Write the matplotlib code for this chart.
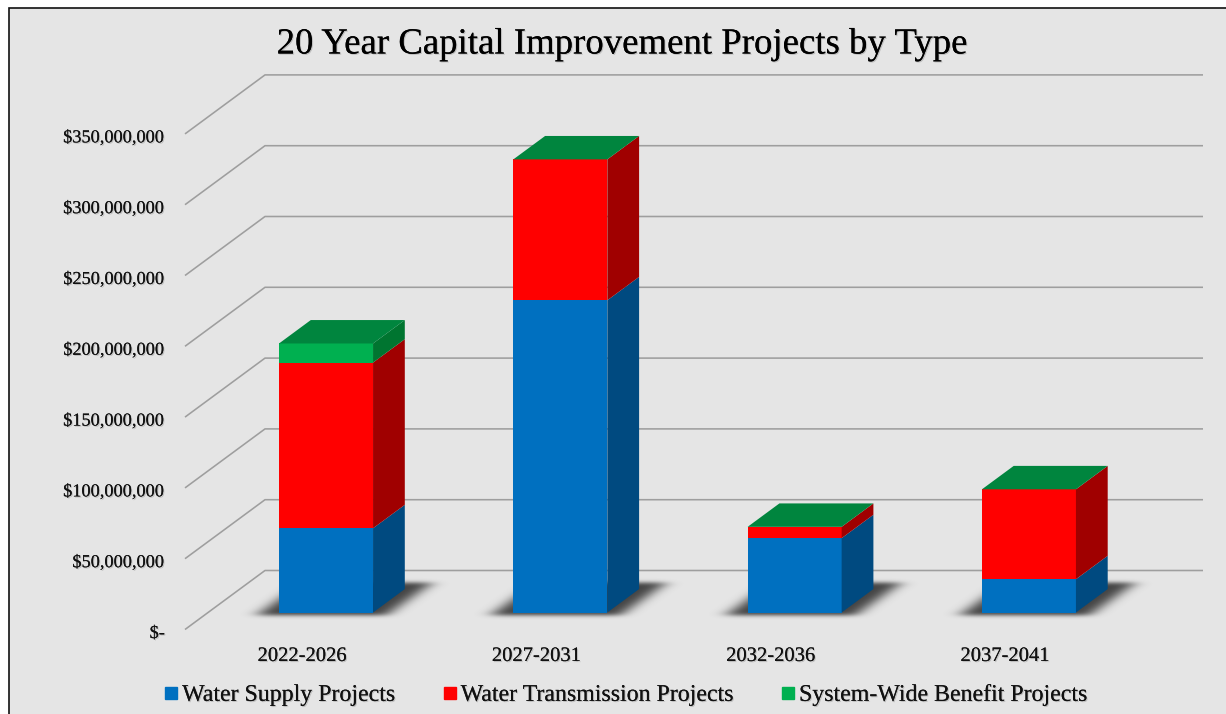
import matplotlib
matplotlib.use('Agg')
import matplotlib.pyplot as plt
import matplotlib.patheffects as pe
import matplotlib.transforms as mtransforms
from matplotlib.lines import Line2D
from matplotlib.patches import Polygon, Rectangle
from matplotlib.ticker import FuncFormatter
import numpy as np

periods = ['2022-2026', '2027-2031', '2032-2036', '2037-2041']
series_names = ['Water Supply Projects', 'Water Transmission Projects', 'System-Wide Benefit Projects']
water_supply = [59.5e6, 220.5e6, 52.5e6, 23.5e6]
water_transmission = [117e6, 99.5e6, 8e6, 63.5e6]
system_wide = [13.5e6, 0, 0, 0]
y_ticks = [0, 50e6, 100e6, 150e6, 200e6, 250e6, 300e6, 350e6]

front = ['#0070c0', '#ff0000', '#00b050']
side = ['#004a80', '#a00000', '#007530']
top = '#00853e'

plt.rcParams['font.family'] = ['Liberation Serif', 'DejaVu Serif']

W, H = 1226, 714
fig = plt.figure(figsize=(W / 100, H / 100), dpi=100, facecolor='white')

# chart area with its black frame, runs off the right and bottom of the image
fig.add_artist(Rectangle((8.5 / W, -0.02), 1.02, (H - 8.5) / H + 0.02, transform=fig.transFigure,
                         facecolor='#e5e5e5', edgecolor='#111111', linewidth=1.2, zorder=-1))

# axes = front edge of the 3d floor
ax = fig.add_axes([185 / W, (H - 629.5) / H, (1203 - 185) / W, (629.5 - 73.5) / H])
ax.patch.set_alpha(0)
px_x = 1 / 234.3
px_y = 50e6 / 70.8
ax.set_xlim((185 - 302) * px_x, (1203 - 302) * px_x)
ax.set_ylim(0, (629.5 - 73.5) * px_y)

depth_x = 80 * px_x
depth_y = 59 * px_y
t0, t1 = 0.288, 0.685  # where the bars sit in the depth of the floor
bar_w = 94 * px_x
bar_shift = 1 * px_x

txt_fx = [pe.withSimplePatchShadow(offset=(0.8, -0.8), shadow_rgbFace='#666666', alpha=0.3), pe.Normal()]

for s in ax.spines.values():
    s.set_visible(False)

ax.set_yticks(y_ticks)
ax.yaxis.set_major_formatter(FuncFormatter(lambda v, p: '$-' if v == 0 else '${:,.0f}'.format(v)))
ax.set_xticks(range(len(periods)))
ax.set_xticklabels(periods)
ax.tick_params(axis='y', length=0, pad=14.5, labelsize=13.2, labelcolor='#111111')
ax.tick_params(axis='x', length=0, pad=12.6, labelsize=14.8, labelcolor='#111111')
for lab in ax.get_xticklabels() + ax.get_yticklabels():
    lab.set_path_effects(txt_fx)
for lab in ax.get_yticklabels():
    lab.set_verticalalignment('center_baseline')
    lab.set_transform(lab.get_transform() + mtransforms.Affine2D().translate(0, -2))

# gridlines: front diagonal then along back wall
xl = ax.get_xlim()
for v in y_ticks:
    ax.plot([xl[0], xl[0] + depth_x, xl[1]], [v, v + depth_y, v + depth_y],
            color='#9e9e9e', lw=1.15, zorder=1, clip_on=False, solid_capstyle='butt')

# blurred floor shadow, one copy per bar (pixel grid relative to the bar's front corner)
xs = np.arange(-70, 220)
ys = np.arange(-20, 60)
gx, gy = np.meshgrid(xs, ys)
left_edge = -22 + (gy + 2) * 45 / 32
right_edge = 108 + (gy + 2) * 45 / 32
mask = ((gy >= -2) & (gy <= 30) & (gx >= left_edge) & (gx <= right_edge)).astype(float)
kx = np.exp(-0.5 * (np.arange(-24, 25) / 8.0) ** 2)
ky = np.exp(-0.5 * (np.arange(-8, 9) / 2.0) ** 2)
mask = np.apply_along_axis(lambda r: np.convolve(r, kx / kx.sum(), mode='same'), 1, mask)
mask = np.apply_along_axis(lambda r: np.convolve(r, ky / ky.sum(), mode='same'), 0, mask)
shadow_img = np.zeros(mask.shape + (4,))
shadow_img[..., :3] = 0.15
shadow_img[..., 3] = mask * 0.85


def shadow(i):
    x0 = i - bar_w / 2 + t0 * depth_x + bar_shift
    y0 = t0 * depth_y
    ax.imshow(shadow_img, origin='lower', aspect='auto', zorder=2, clip_on=False, interpolation='bilinear',
              extent=[x0 + xs[0] * px_x, x0 + xs[-1] * px_x, y0 + ys[0] * px_y, y0 + ys[-1] * px_y])


for i in range(len(periods)):
    shadow(i)
    bottom = 0
    x_left = i - bar_w / 2 + t0 * depth_x + bar_shift
    x_right = x_left + bar_w
    dx = (t1 - t0) * depth_x
    dy = (t1 - t0) * depth_y
    base = t0 * depth_y
    for j, vals in enumerate([water_supply, water_transmission, system_wide]):
        v = vals[i]
        if v == 0:
            continue
        ax.bar(x_left, v, width=bar_w, bottom=base + bottom, align='edge', color=front[j], zorder=4, clip_on=False)
        y1 = base + bottom
        y2 = y1 + v
        ax.add_patch(Polygon([[x_right, y1], [x_right + dx, y1 + dy], [x_right + dx, y2 + dy], [x_right, y2]],
                             closed=True, facecolor=side[j], edgecolor='none', zorder=4, clip_on=False))
        bottom += v
    y2 = base + bottom
    ax.add_patch(Polygon([[x_left, y2], [x_right, y2], [x_right + dx, y2 + dy], [x_left + dx, y2 + dy]],
                         closed=True, facecolor=top, edgecolor='none', zorder=4, clip_on=False))

ax.set_xlim((185 - 302) * px_x, (1203 - 302) * px_x)
ax.set_ylim(0, (629.5 - 73.5) * px_y)

fig.text(621.5 / W, 1 - 44 / H, '20 Year Capital Improvement Projects by Type', ha='center', va='center',
         fontsize=26.5, color='black', path_effects=txt_fx)

handles = [Line2D([], [], linestyle='none', marker='s', markersize=8.5, color=c) for c in front]
leg = fig.legend(handles, series_names, loc='center', bbox_to_anchor=(625 / W, 1 - 695 / H), ncols=3, frameon=False,
                 fontsize=17.2, handlelength=0.7, handletextpad=0.1, columnspacing=1.95, labelcolor='#111111')
for t in leg.get_texts():
    t.set_path_effects(txt_fx)

plt.savefig('out.png', dpi=100)
